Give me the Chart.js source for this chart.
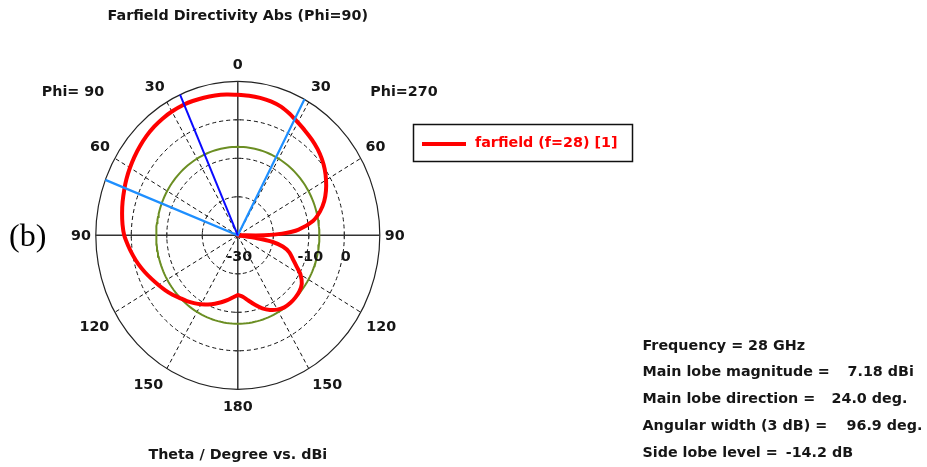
<!DOCTYPE html>
<html>
<head>
<meta charset="utf-8">
<script src="https://cdn.jsdelivr.net/npm/chart.js@4.4.1/dist/chart.umd.min.js"></script>
<style>
  html, body { margin: 0; padding: 0; background: #ffffff; }
  #wrap { width: 927px; height: 467px; position: relative; }
</style>
</head>
<body>
<div id="wrap"><canvas id="farfield" width="927" height="467"></canvas></div>
<script>
// Directivity cut at Phi=90 (left half) and Phi=270 (right half), theta in degrees, values in dBi
const thetaPhi90 = [0, 5, 10, 15, 20, 24, 30, 35, 40, 45, 50, 55, 60, 65, 69, 75, 80, 85, 90, 95, 100,
  105, 110, 115, 120, 125, 130, 135, 140, 145, 150, 155, 160, 165, 170, 175, 180];
const dbiPhi90 = [6.5, 6.68, 6.85, 7.0, 7.12, 7.18, 7.12, 6.98, 6.75, 6.42, 6.0, 5.55, 5.08, 4.6, 4.18, 3.6, 3.1, 2.6, 2.0, 1.0, 0.0,
  -1.0, -2.1, -3.2, -4.2, -5.1, -6.0, -6.95, -7.7, -8.5, -9.3, -10.2, -11.1, -12.0, -12.9, -13.8, -14.5];

const thetaPhi270 = [0, 5, 10, 15, 20, 25, 28, 30, 35, 40, 45, 50, 55, 60, 65, 70, 75, 80, 85, 88, 90, 92, 94, 96, 98, 100,
  103, 107, 112, 116, 120, 125, 130, 135, 140, 145, 150, 155, 160, 165, 170, 175, 180];
const dbiPhi270 = [6.5, 6.4, 6.25, 6.0, 5.55, 4.75, 4.18, 3.85, 3.1, 2.45, 1.75, 0.9, -0.1, -1.3, -2.6, -4.1, -6.0, -8.5, -12.8, -17.5, -22.5, -30.5, -33, -29, -24.5, -20,
  -17, -14.8, -13.2, -11.6, -9.6, -8.0, -7.35, -7.1, -7.02, -7.15, -7.7, -8.6, -9.8, -11.3, -12.8, -14.0, -14.5];

// Radial (dBi) axis
const radialRings = [-30, -20, -10, 0, 10];
const radialTickValues = [-30, -10, 0];
const radialTickLabels = ['-30', '-10', '0'];

// Angular (theta) axis labels, shown on both halves
const thetaTicks = [0, 30, 60, 90, 120, 150, 180];
const thetaTickLabels = ['0', '30', '60', '90', '120', '150', '180'];

// Pattern summary
const frequencyGHz = 28;
const mainLobeMagnitude = 7.18;   // dBi
const mainLobeDirection = 24.0;   // deg, Phi=90 side
const angularWidth3dB = 96.9;     // deg
const beamEdgePhi90 = 68.9;       // deg
const beamEdgePhi270 = 28.0;      // deg
const sideLobeLevel = -14.2;      // dB relative to main lobe

const R_MIN = radialRings[0];
const R_MAX = radialRings[radialRings.length - 1];
const SPAN = R_MAX - R_MIN;

// theta/dBi -> x/y on the plot plane; side = -1 for Phi=90 (left), +1 for Phi=270 (right)
function toXY(thetaDeg, dbi, side) {
  const r = Math.max(0, Math.min(SPAN, dbi - R_MIN));
  const a = thetaDeg * Math.PI / 180;
  return { x: side * r * Math.sin(a), y: r * Math.cos(a) };
}

const patternPoints = [];
thetaPhi90.forEach((t, i) => patternPoints.push(toXY(t, dbiPhi90[i], -1)));
for (let i = thetaPhi270.length - 1; i >= 0; i--) patternPoints.push(toXY(thetaPhi270[i], dbiPhi270[i], 1));

const sideLobeCircle = [];
for (let a = 0; a <= 360; a += 2) sideLobeCircle.push(toXY(a, mainLobeMagnitude + sideLobeLevel, 1));

const mainLobeLine = [toXY(0, R_MIN, 1), toXY(mainLobeDirection, R_MAX, -1)];
const beamWidthLines = [toXY(beamEdgePhi90, R_MAX, -1), toXY(0, R_MIN, 1), toXY(beamEdgePhi270, R_MAX, 1)];

const FONT = "'DejaVu Sans', Verdana, sans-serif";
const INK = '#161616';

// Polar grid: dashed rings, solid outer ring, dashed spokes, axes
const polarGrid = {
  id: 'polarGrid',
  beforeDatasetsDraw(chart) {
    const { ctx } = chart;
    const xs = chart.scales.x, ys = chart.scales.y;
    const cx = xs.getPixelForValue(0), cy = ys.getPixelForValue(0);
    const rx = v => xs.getPixelForValue(v - R_MIN) - cx;
    const ry = v => cy - ys.getPixelForValue(v - R_MIN);
    ctx.save();
    ctx.lineWidth = 1;
    ctx.strokeStyle = '#111111';
    ctx.setLineDash([4, 3]);
    radialRings.slice(1, -1).forEach(v => {
      ctx.beginPath();
      ctx.ellipse(cx, cy, rx(v), ry(v), 0, 0, Math.PI * 2);
      ctx.stroke();
    });
    [30, 60, 120, 150].forEach(t => {
      [-1, 1].forEach(side => {
        const p = toXY(t, R_MAX, side);
        ctx.beginPath();
        ctx.moveTo(cx, cy);
        ctx.lineTo(xs.getPixelForValue(p.x), ys.getPixelForValue(p.y));
        ctx.stroke();
      });
    });
    ctx.setLineDash([]);
    ctx.strokeStyle = '#222222';
    ctx.lineWidth = 1.2;
    ctx.beginPath();
    ctx.ellipse(cx, cy, rx(R_MAX), ry(R_MAX), 0, 0, Math.PI * 2);
    ctx.stroke();
    ctx.strokeStyle = '#333333';
    ctx.lineWidth = 1.5;
    ctx.beginPath();
    ctx.moveTo(cx - rx(R_MAX), cy); ctx.lineTo(cx + rx(R_MAX), cy);
    ctx.moveTo(cx, cy - ry(R_MAX)); ctx.lineTo(cx, cy + ry(R_MAX));
    ctx.stroke();
    ctx.lineWidth = 1;
    radialRings.slice(1, -1).forEach(v => {
      ctx.beginPath();
      ctx.moveTo(cx + rx(v), cy - 3); ctx.lineTo(cx + rx(v), cy + 3);
      ctx.moveTo(cx - rx(v), cy - 3); ctx.lineTo(cx - rx(v), cy + 3);
      ctx.moveTo(cx - 3, cy - ry(v)); ctx.lineTo(cx + 3, cy - ry(v));
      ctx.moveTo(cx - 3, cy + ry(v)); ctx.lineTo(cx + 3, cy + ry(v));
      ctx.stroke();
    });
    ctx.restore();
  }
};

// Labels, legend box and summary text
const polarText = {
  id: 'polarText',
  afterDraw(chart) {
    const { ctx } = chart;
    const xs = chart.scales.x, ys = chart.scales.y;
    const cx = xs.getPixelForValue(0), cy = ys.getPixelForValue(0);
    const RX = xs.getPixelForValue(SPAN) - cx, RY = cy - ys.getPixelForValue(SPAN);
    ctx.save();
    ctx.fillStyle = INK;
    ctx.textBaseline = 'middle';
    ctx.textAlign = 'center';
    ctx.font = 'bold 14.3px ' + FONT;

    ctx.fillText('Farfield Directivity Abs (Phi=90)', cx, 16);
    ctx.fillText('Theta / Degree vs. dBi', cx, 455);
    ctx.fillText('Phi= 90', 73, 92);
    ctx.fillText('Phi=270', 404, 92);

    // theta labels sit just outside the outer ring (normalised offsets from centre)
    const spots = { 0: [0, 1.106], 30: [0.585, 0.963], 60: [0.97, 0.575], 90: [1.105, 0],
                    120: [1.01, -0.593], 150: [0.63, -0.969], 180: [0, -1.113] };
    thetaTicks.forEach((t, i) => {
      const s = spots[t];
      const sides = (t === 0 || t === 180) ? [1] : [-1, 1];
      sides.forEach(side => ctx.fillText(thetaTickLabels[i], cx + side * s[0] * RX, cy - s[1] * RY + 0.5));
    });

    radialTickValues.forEach((v, i) => {
      ctx.fillText(radialTickLabels[i], xs.getPixelForValue(v - R_MIN) + 1.5, cy + 21.5);
    });

    // legend
    ctx.lineWidth = 1.5;
    ctx.strokeStyle = '#111111';
    ctx.strokeRect(413.5, 124.5, 219, 37);
    ctx.strokeStyle = '#ff0000';
    ctx.lineWidth = 4;
    ctx.beginPath(); ctx.moveTo(422, 144); ctx.lineTo(466, 144); ctx.stroke();
    ctx.fillStyle = '#ff0000';
    ctx.textAlign = 'left';
    ctx.fillText('farfield (f=' + frequencyGHz + ') [1]', 475, 143.5);

    // summary block: label, then value in its own column (kept clear of the label)
    ctx.fillStyle = INK;
    const x0 = 642.5;
    const rows = [
      ['Frequency = ' + frequencyGHz + ' GHz', '', 0, 346],
      ['Main lobe magnitude =', mainLobeMagnitude.toFixed(2) + ' dBi', 847.5, 372.5],
      ['Main lobe direction =', mainLobeDirection.toFixed(1) + ' deg.', 831.5, 399.5],
      ['Angular width (3 dB) =', angularWidth3dB.toFixed(1) + ' deg.', 846.5, 426.5],
      ['Side lobe level =', sideLobeLevel.toFixed(1) + ' dB', 766.5, 453]
    ];
    rows.forEach(([label, value, vx, y]) => {
      ctx.fillText(label, x0, y);
      if (value) ctx.fillText(value, Math.max(vx, x0 + ctx.measureText(label).width + 8), y);
    });

    ctx.font = "32px 'Liberation Serif', 'Times New Roman', serif";
    ctx.fillStyle = '#000000';
    ctx.fillText('(b)', 9, 238);
    ctx.restore();
  }
};

new Chart(document.getElementById('farfield'), {
  type: 'scatter',
  data: {
    datasets: [
      { data: mainLobeLine, showLine: true, borderColor: '#0a0aff', borderWidth: 2, pointRadius: 0 },
      { data: beamWidthLines, showLine: true, borderColor: '#1e8fff', borderWidth: 2.2, pointRadius: 0 },
      { data: patternPoints, showLine: true, borderColor: '#ff0000', borderWidth: 4, pointRadius: 0, tension: 0.25, borderJoinStyle: 'round' },
      { data: sideLobeCircle, showLine: true, borderColor: '#6b8e23', borderWidth: 2, pointRadius: 0 }
    ]
  },
  options: {
    responsive: false,
    animation: false,
    devicePixelRatio: 1,
    layout: { padding: { left: 95.8, right: 547.2, top: 81.3, bottom: 77.7 } },
    scales: {
      x: { type: 'linear', min: -SPAN, max: SPAN, display: false },
      y: { type: 'linear', min: -SPAN, max: SPAN, display: false }
    },
    plugins: { legend: { display: false }, tooltip: { enabled: false }, title: { display: false } },
    events: []
  },
  plugins: [polarGrid, polarText]
});
</script>
</body>
</html>
